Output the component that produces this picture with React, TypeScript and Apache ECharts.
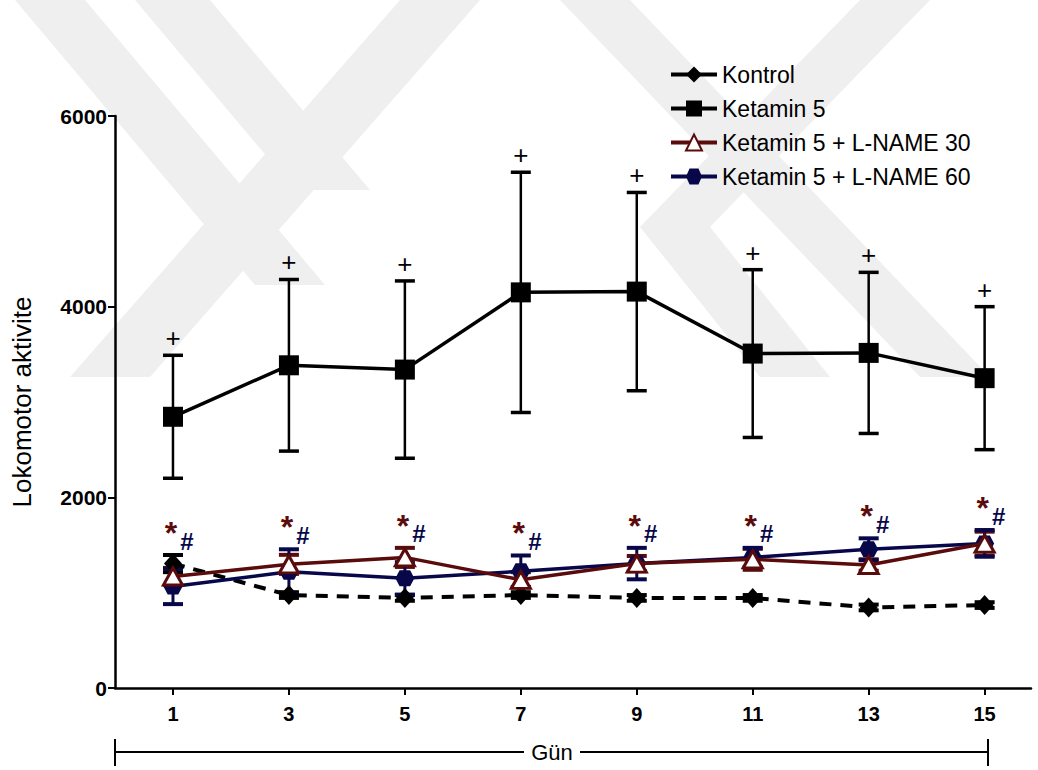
import React, { useEffect, useRef } from "react";
import * as echarts from "echarts";

// ---- data ----
const days = [1, 3, 5, 7, 9, 11, 13, 15];
const kontrolMean = [1305, 975, 945, 975, 945, 945, 845, 870];
const kontrolSd = [90, 30, 30, 30, 30, 30, 30, 30];
const ket5Mean = [2845, 3385, 3340, 4150, 4158, 3508, 3515, 3250];
const ket5Sd = [645, 900, 930, 1260, 1040, 880, 845, 750];
const lname30Mean = [1170, 1297, 1370, 1135, 1305, 1350, 1290, 1515];
const lname30Sd = [90, 100, 100, 80, 80, 110, 60, 125];
const lname60Mean = [1065, 1220, 1150, 1225, 1305, 1370, 1455, 1517];
const lname60Sd = [185, 235, 170, 165, 165, 100, 115, 140];
const yTicks = [0, 2000, 4000, 6000];
const names = ["Kontrol", "Ketamin 5", "Ketamin 5 + L-NAME 30", "Ketamin 5 + L-NAME 60"];

const RED = "#5a0b0b";
const NAVY = "#07074a";
const FONT = "Liberation Sans, Arial, sans-serif";
const HEX = "path://M0,6 L4,0 L14,0 L18,6 L14,12 L4,12 Z";

const pts = (m: number[]) => days.map((d, i) => [d, m[i]]);
const errData = (m: number[], s: number[]) => days.map((d, i) => [d, m[i], s[i]]);

function errorSeries(m: number[], s: number[], color: string, lw: number, capW: number, plus: boolean, z: number) {
  return {
    type: "custom",
    z,
    silent: true,
    data: errData(m, s),
    renderItem: (params: any, api: any) => {
      const x = api.value(0);
      const mean = api.value(1);
      const sd = api.value(2);
      const top = api.coord([x, mean + sd]);
      const bot = api.coord([x, mean - sd]);
      const st = { stroke: color, lineWidth: lw };
      const children: any[] = [
        { type: "line", shape: { x1: top[0], y1: top[1], x2: bot[0], y2: bot[1] }, style: st },
        { type: "line", shape: { x1: top[0] - capW / 2, y1: top[1], x2: top[0] + capW / 2, y2: top[1] }, style: { stroke: color, lineWidth: lw + 1 } },
        { type: "line", shape: { x1: bot[0] - capW / 2, y1: bot[1], x2: bot[0] + capW / 2, y2: bot[1] }, style: { stroke: color, lineWidth: lw + 1 } },
      ];
      if (plus) {
        children.push({
          type: "text",
          style: { x: top[0], y: top[1] - 4, text: "+", fill: "#000", font: `26px ${FONT}`, align: "center", verticalAlign: "bottom" },
        });
      }
      return { type: "group", children };
    },
  };
}

const annotTop = days.map((d, i) =>
  [d, Math.max(kontrolMean[i] + kontrolSd[i], lname30Mean[i] + lname30Sd[i], lname60Mean[i] + lname60Sd[i])]
);

export default function App() {
  const ref = useRef<HTMLDivElement>(null);
  useEffect(() => {
    const chart = echarts.init(ref.current!, null, { renderer: "svg" });
    const wm = "#efefef";
    const band = (p: number[][]) => ({ type: "polygon", z: -10, silent: true, shape: { points: p }, style: { fill: wm } });
    chart.setOption({
      animation: false,
      backgroundColor: "#fff",
      textStyle: { fontFamily: FONT },
      graphic: [
        band([[15, 0], [85, 0], [325, 285], [255, 285]]),
        band([[135, 0], [210, 0], [370, 190], [295, 190]]),
        band([[400, 0], [480, 0], [150, 377], [70, 377]]),
        band([[560, 0], [630, 0], [990, 377], [920, 377]]),
        band([[860, 0], [930, 0], [710, 227], [640, 227]]),
        band([[640, 227], [710, 227], [830, 377], [760, 377]]),
        { type: "line", shape: { x1: 115, y1: 752, x2: 524, y2: 752 }, style: { stroke: "#000", lineWidth: 2 } },
        { type: "line", shape: { x1: 580, y1: 752, x2: 988, y2: 752 }, style: { stroke: "#000", lineWidth: 2 } },
        { type: "line", shape: { x1: 115, y1: 739, x2: 115, y2: 766 }, style: { stroke: "#000", lineWidth: 2 } },
        { type: "line", shape: { x1: 988, y1: 739, x2: 988, y2: 766 }, style: { stroke: "#000", lineWidth: 2 } },
        { type: "text", style: { x: 552, y: 752, text: "Gün", fill: "#000", font: `22px ${FONT}`, align: "center", verticalAlign: "middle" } },
      ],
      grid: { left: 115, right: 7, top: 116, bottom: 82, containLabel: false },
      legend: {
        orient: "vertical",
        left: 664,
        top: 58,
        itemWidth: 46,
        itemHeight: 20,
        itemGap: 11,
        data: names.map((n) => ({ name: n, lineStyle: { type: "solid", width: 4 } })),
        textStyle: { fontSize: 23, color: "#000", fontFamily: FONT },
      },
      xAxis: {
        type: "value",
        min: 0,
        max: 15.8,
        axisLine: { lineStyle: { color: "#000", width: 2.5 } },
        axisTick: { customValues: days, length: 7, lineStyle: { color: "#000", width: 2 } },
        axisLabel: { customValues: days, fontSize: 20, fontWeight: "bold", color: "#000", margin: 16, fontFamily: FONT },
        splitLine: { show: false },
      },
      yAxis: {
        type: "value",
        min: 0,
        max: 6000,
        name: "Lokomotor aktivite",
        nameLocation: "middle",
        nameRotate: 90,
        nameGap: 80,
        nameTextStyle: { fontSize: 26, color: "#000", fontFamily: FONT },
        axisLine: { show: true, lineStyle: { color: "#000", width: 2.5 } },
        axisTick: { show: true, customValues: yTicks, length: 7, lineStyle: { color: "#000", width: 2 } },
        axisLabel: { customValues: yTicks, formatter: (v: number) => String(v), fontSize: 21, fontWeight: "bold", color: "#000", margin: 8, fontFamily: FONT },
        splitLine: { show: false },
      },
      series: [
        errorSeries(ket5Mean, ket5Sd, "#000", 2.5, 20, true, 1),
        errorSeries(kontrolMean, kontrolSd, "#000", 3, 20, false, 1),
        errorSeries(lname30Mean, lname30Sd, RED, 3, 20, false, 1),
        errorSeries(lname60Mean, lname60Sd, NAVY, 3, 20, false, 1),
        {
          name: names[0],
          type: "line",
          z: 3,
          data: pts(kontrolMean),
          symbol: "diamond",
          symbolSize: [18, 20],
          lineStyle: { color: "#000", width: 4, type: [12, 9] },
          itemStyle: { color: "#000" },
        },
        {
          name: names[1],
          type: "line",
          z: 3,
          data: pts(ket5Mean),
          symbol: "rect",
          symbolSize: 20,
          lineStyle: { color: "#000", width: 3.5 },
          itemStyle: { color: "#000" },
        },
        {
          name: names[2],
          type: "line",
          z: 4,
          data: pts(lname30Mean),
          symbol: "triangle",
          symbolSize: [19, 17],
          lineStyle: { color: RED, width: 3.5 },
          itemStyle: { color: "#fff", borderColor: RED, borderWidth: 3 },
        },
        {
          name: names[3],
          type: "line",
          z: 3,
          data: pts(lname60Mean),
          symbol: HEX,
          symbolSize: [19, 16],
          lineStyle: { color: NAVY, width: 3.5 },
          itemStyle: { color: NAVY },
        },
        {
          type: "custom",
          z: 5,
          silent: true,
          data: annotTop,
          renderItem: (params: any, api: any) => {
            const p = api.coord([api.value(0), api.value(1)]);
            return {
              type: "group",
              children: [
                { type: "text", style: { x: p[0] - 2, y: p[1] - 6, text: "*", fill: RED, font: `bold 32px ${FONT}`, align: "center", verticalAlign: "bottom" } },
                { type: "text", style: { x: p[0] + 14, y: p[1] - 2, text: "#", fill: NAVY, font: `bold 24px ${FONT}`, align: "center", verticalAlign: "bottom" } },
              ],
            };
          },
        },
      ],
    });
    return () => chart.dispose();
  }, []);
  return <div ref={ref} style={{ position: "fixed", left: 0, top: 0, width: 1038, height: 770 }} />;
}
